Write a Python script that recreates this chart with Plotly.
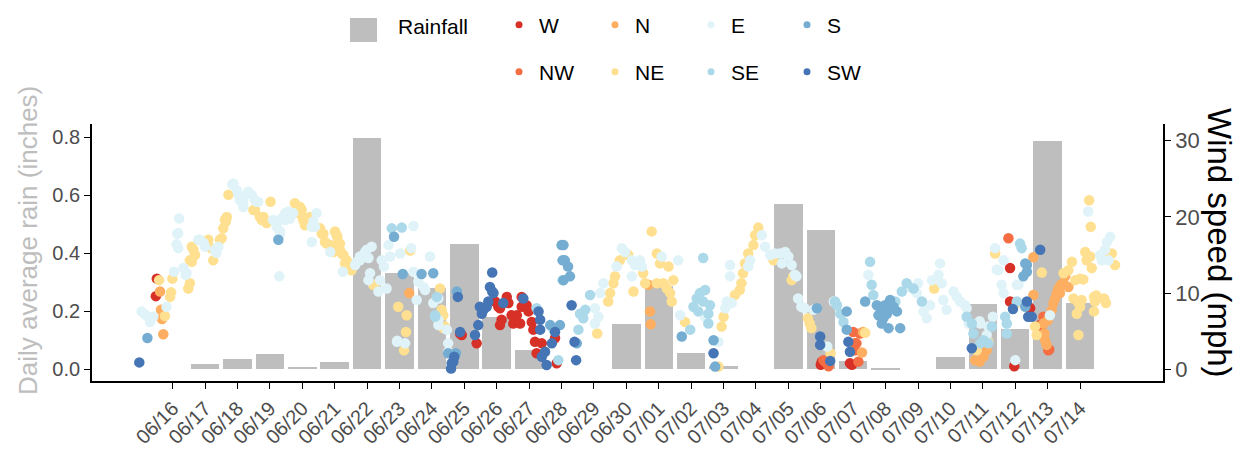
import plotly.graph_objects as go

# x is measured in days from 06/16 00:00 (tick positions), y2 in mph
dates = ['06/16', '06/17', '06/18', '06/19', '06/20', '06/21', '06/22', '06/23', '06/24', '06/25',
         '06/26', '06/27', '06/28', '06/29', '06/30', '07/01', '07/02', '07/03', '07/04', '07/05',
         '07/06', '07/07', '07/08', '07/09', '07/10', '07/11', '07/12', '07/13', '07/14']
rain = [0.0, 0.017, 0.035, 0.052, 0.009, 0.026, 0.799, 0.331, 0.279, 0.432,
        0.181, 0.067, 0.0, 0.0, 0.156, 0.288, 0.055, 0.012, 0.0, 0.569,
        0.481, 0.030, 0.002, 0.0, 0.044, 0.224, 0.141, 0.788, 0.229]

W_day = [-0.52, -0.49, 8.87, 8.92, 9.38, 9.95, 10.05, 10.1, 10.31, 10.36, 10.15, 10.1, 10.46, 10.51,
         10.62, 10.77, 10.77, 10.92, 10.98, 10.72, 11.08, 11.13, 11.18, 11.23, 11.39, 11.8, 11.85,
         20.0, 20.03, 20.96, 20.9, 25.84, 25.84, 25.97, 26.41, 26.46, 26.77, 26.82]
W_mph = [9.6, 11.9, 4.7, 4.5, 3.4, 8.9, 8.2, 8.0, 9.5, 8.7, 6.5, 5.8, 7.1, 6.0,
         7.1, 9.5, 8.2, 8.4, 7.6, 6.0, 6.2, 5.2, 3.6, 2.1, 3.4, 4.1, 0.8,
         0.6, 1.0, 0.6, 0.8, 13.3, 8.9, 0.4, 8.2, 8.0, 5.8, 5.8]

NW_day = [20.08, 20.24, 20.15, 21.0, 21.06, 21.1, 21.06, 21.16, 21.21, 25.79, 26.77, 26.87, 27.02, 27.05]
NW_mph = [1.2, 0.4, 0.9, 4.9, 3.4, 3.4, 2.5, 1.0, 4.7, 17.2, 5.7, 6.9, 2.5, 2.6]

N_day = [-0.29, -0.36, -0.39, -0.33, 7.3, 14.68, 14.73, 14.75, 21.3, 21.27, 24.76, 24.9, 25.02, 25.12,
         26.56, 26.56, 26.87, 26.9, 26.92, 26.97, 27.0, 27.13, 27.18, 27.23, 27.28, 27.33, 27.38,
         27.41, 27.49, 27.54, 27.64]
N_mph = [4.6, 7.8, 10.2, 6.6, 10.0, 11.1, 7.6, 5.9, 4.9, 2.2, 1.2, 1.0, 1.65, 2.5,
         14.7, 9.75, 6.0, 4.7, 3.8, 3.2, 6.4, 7.8, 8.7, 9.3, 10.0, 10.6, 10.0,
         11.1, 11.3, 12.2, 10.8]

NE_day = [-0.42, -0.24, -0.05, -0.08, -0.01, 0.48, 0.53, 0.59, 0.64, 0.69, 0.53, 0.59, 1.1, 1.18,
          1.25, 1.51, 1.56, 1.61, 1.64, 1.67, 1.72, 1.46, 2.49, 2.54, 2.69, 2.75, 2.8, 2.9, 3.02,
          3.77, 3.83, 3.88, 3.93, 3.98, 4.03, 4.03, 4.08, 4.19, 4.24, 4.55, 4.6, 4.65, 4.7, 4.75,
          4.86, 4.91, 4.96, 5.01, 5.06, 5.08, 5.11, 5.16, 5.16, 5.22, 5.27, 5.32, 5.37, 5.42, 5.47,
          5.52, 6.19, 6.24, 6.96, 7.22, 7.2, 7.14, 7.33, 8.25, 8.3, 8.35, 8.35, 8.4,
          13.1, 13.44, 13.5, 13.6, 13.65, 13.8, 14.06, 14.22, 14.52, 14.58, 14.78, 14.94, 15.04,
          14.94, 15.14, 15.25, 15.35, 15.4, 15.45, 15.3, 15.81, 16.84, 17.0, 16.94, 17.35, 17.5,
          17.55, 17.6, 17.66, 17.76, 17.92, 17.97, 18.07, 18.54, 19.1, 19.15, 19.6, 19.66, 19.71,
          20.3, 21.37, 23.5, 24.81, 25.17, 25.38, 26.82, 26.05, 26.61, 26.66, 27.49, 27.64, 27.75,
          27.85, 28.0, 28.1, 27.8, 27.95, 28.05, 27.9, 28.0, 27.95, 28.16, 28.31, 28.36, 28.2,
          28.28, 28.33, 28.43, 28.5, 28.46, 28.43, 28.74, 28.8, 28.83, 28.98, 29.08]
NE_mph = [11.7, 7.0, 10.1, 9.5, 11.9, 10.6, 11.3, 14.1, 15.7, 15.0, 14.3, 16.1, 17.0, 15.9,
          14.3, 17.2, 18.5, 19.6, 19.4, 20.0, 22.9, 17.0, 20.9, 20.9, 20.0, 19.6, 20.0, 19.2, 22.0,
          21.8, 20.9, 20.5, 21.3, 20.9, 20.0, 19.6, 18.9, 19.6, 20.0, 18.5, 17.8, 17.8, 16.7, 16.5,
          16.3, 15.9, 15.4, 18.1, 17.6, 17.4, 16.7, 16.5, 15.7, 15.2, 15.0, 13.9, 14.3, 13.3, 13.7,
          13.0, 11.1, 11.1, 8.2, 7.1, 4.9, 2.5, 15.6, 10.6, 7.8, 7.1, 5.4, 5.6,
          4.7, 8.9, 10.0, 11.3, 12.2, 14.3, 15.0, 10.2, 12.6, 11.3, 18.1, 15.2, 13.9,
          11.3, 11.3, 10.6, 10.0, 8.9, 11.7, 13.5, 6.2, 0.35, 6.9, 5.6, 9.75, 10.4,
          11.3, 12.6, 13.9, 15.2, 16.3, 17.6, 18.6, 14.3, 11.7, 12.2, 6.7, 6.0, 5.4,
          2.1, 4.8, 10.6, 2.5, 3.6, 15.2, 12.7, 8.7, 5.6, 4.5, 12.6, 13.0, 14.1,
          11.7, 11.9, 11.8, 9.3, 8.7, 9.1, 7.3, 8.2, 4.5, 15.4, 14.8, 13.3, 14.3,
          22.2, 18.7, 9.5, 9.7, 8.9, 7.6, 9.3, 8.7, 15.2, 15.2, 13.7]

E_day = [-0.96, -0.75, -0.6, -0.7, -0.85, -0.19, 0.04, 0.17, 0.12, 0.17, 0.2, 0.14, 0.33, 0.4,
         0.43, 0.79, 0.84, 1.0, 0.95, 1.3, 1.41, 1.35, 1.84, 1.87, 1.98, 2.03, 2.08, 2.18, 2.18,
         2.33, 2.33, 2.44, 2.54, 2.59, 2.64, 3.1, 3.21, 3.21, 3.31, 3.31, 3.36, 3.47, 3.47, 3.57,
         3.57, 3.62, 3.72, 3.29, 4.29, 4.29, 4.34, 4.39, 4.44, 4.86, 5.25, 5.63, 5.68, 5.78,
         5.78, 5.88, 5.94, 5.99, 6.04, 6.14, 6.04, 6.09, 6.35, 6.4, 6.45, 6.52, 6.6, 6.66, 6.71,
         7.02, 7.43, 7.36, 7.43, 7.58, 7.74, 7.53, 7.94, 7.79, 8.2, 8.04, 8.2, 8.2, 8.46, 8.5,
         8.5, 6.93, 7.17, 6.92, 13.03, 13.14, 13.03, 13.29, 13.19, 13.7, 13.86, 13.96, 14.17,
         14.27, 14.42, 14.48, 14.17, 15.09, 15.6, 15.66, 16.43, 16.84, 17.2, 17.1, 17.05, 17.25,
         17.2, 17.82, 17.76, 18.18, 18.28, 18.44, 18.59, 18.75, 18.9, 19.0, 18.8, 19.1, 19.2,
         19.25, 19.3, 19.4, 19.5, 19.77, 20.2, 20.4, 21.47, 22.76, 23.0, 22.96, 23.17, 23.27,
         23.37, 23.43, 23.63, 23.68, 23.73, 23.78, 23.88, 24.1, 24.2, 24.3, 24.45, 24.5, 25.12,
         24.9, 24.56, 24.92, 25.17, 25.31, 25.38, 25.64, 25.48, 25.43, 25.58, 25.64, 26.0, 26.1,
         26.05, 27.07, 28.25, 28.62, 28.77, 28.83, 28.93, 28.67, 28.88]
E_mph = [7.6, 6.9, 6.9, 6.2, 7.2, 8.2, 12.8, 15.9, 16.4, 17.9, 19.8, 17.8, 13.3, 12.4,
         12.6, 17.0, 17.0, 16.1, 16.6, 15.7, 16.1, 15.3, 24.3, 24.4, 23.5, 22.9, 22.2, 22.0, 21.3,
         23.1, 23.3, 22.9, 22.2, 22.0, 22.0, 19.6, 19.2, 18.7, 18.1, 17.8, 19.8, 20.5, 19.6, 20.7,
         20.5, 19.8, 20.5, 12.2, 16.7, 18.7, 19.4, 18.7, 20.5, 15.4, 12.8, 13.7, 14.1, 14.8,
         14.3, 15.0, 15.4, 15.7, 14.6, 16.1, 11.7, 12.6, 10.2, 11.7, 14.3, 13.5, 10.6, 16.3, 14.8,
         15.2, 18.8, 15.9, 12.8, 11.5, 10.8, 9.1, 14.8, 10.4, 9.3, 8.7, 6.5, 5.8, 5.2, 3.4,
         2.3, 3.75, 3.4, 3.6, 8.0, 6.9, 6.0, 11.3, 10.0, 13.5, 15.9, 15.4, 14.3,
         13.7, 14.3, 13.5, 12.2, 14.8, 14.3, 7.1, 6.9, 3.6, 13.7, 8.9, 8.0, 8.7,
         12.2, 14.3, 13.5, 17.6, 16.1, 15.0, 15.2, 15.2, 15.4, 14.8, 13.9, 13.7, 12.4,
         12.2, 9.3, 8.2, 8.0, 7.8, 3.0, 8.9, 12.4, 10.8, 11.3, 10.0, 7.6, 6.7,
         8.4, 11.7, 12.4, 13.9, 11.3, 9.1, 7.8, 10.2, 9.5, 8.9, 8.4, 8.0, 4.5,
         6.3, 6.0, 6.0, 5.6, 6.9, 15.9, 14.3, 13.0, 13.1, 11.1, 10.0, 1.2, 11.1,
         11.1, 7.1, 20.7, 15.0, 15.7, 16.7, 17.4, 14.3, 14.3]

SE_day = [6.76, 7.07, 8.1, 8.15, 8.1, 11.23, 11.75, 11.9, 12.03, 12.52, 12.88, 12.73, 12.57, 12.67,
          15.97, 16.07, 16.17, 16.27, 16.43, 16.37, 16.22, 16.53, 16.58, 16.37, 16.53, 20.44,
          20.5, 20.6, 20.7, 21.52, 21.57, 21.62, 22.3, 22.5, 22.65, 22.86, 23.12, 24.5, 24.66,
          24.71, 25.28, 25.02, 25.17, 24.92, 25.69, 25.74, 25.74, 26.05, 26.15, 26.2]
SE_mph = [18.5, 18.6, 7.1, 9.5, 6.9, 8.0, 5.2, 1.2, 11.7, 5.2, 9.75, 7.8, 7.3, 6.7,
          5.2, 8.2, 9.3, 10.0, 10.4, 8.9, 7.6, 7.3, 8.4, 14.6, 6.0, 8.9,
          8.4, 7.3, 6.2, 14.1, 11.1, 9.75, 8.9, 10.2, 11.3, 10.6, 8.9, 6.9, 6.0,
          4.7, 5.6, 3.8, 3.4, 3.4, 6.9, 6.0, 4.7, 8.9, 16.5, 15.9]

S_day = [-0.78, 3.26, 6.83, 7.1, 7.68, 8.04, 8.5, 8.74, 8.77, 11.65, 11.95, 12.0, 12.03, 12.06,
         12.1, 12.2, 12.26, 12.06, 12.47, 15.71, 16.69, 16.74, 19.88, 20.8, 20.8, 21.37, 21.73,
         21.84, 21.78, 21.93, 21.88, 22.09, 22.04, 22.14, 22.24, 22.45, 22.35, 21.98, 26.36,
         26.25, 26.31, 26.36, 26.31]
S_mph = [4.1, 17.0, 17.4, 12.5, 12.5, 12.6, 2.1, 2.1, 10.2, 5.8, 5.8, 16.3, 14.3, 16.3,
         14.3, 13.5, 12.2, 11.7, 3.4, 4.3, 3.8, 0.35, 8.0, 7.6, 5.2, 8.9, 8.4,
         8.0, 7.1, 6.7, 6.0, 5.4, 7.3, 9.1, 8.2, 5.4, 7.6, 8.4, 13.7,
         12.2, 13.9, 12.8, 8.2]

SW_day = [-1.03, 8.61, 8.66, 8.59, 8.69, 8.8, 8.87, 9.86, 9.79, 9.86, 9.9, 9.48, 9.59, 9.69, 9.54,
          9.74, 9.43, 9.33, 10.2, 10.82, 11.29, 11.34, 11.34, 11.39, 11.54, 11.7, 11.49, 11.8,
          12.31, 12.45, 12.4, 16.69, 19.98, 19.98, 20.29, 20.85, 20.9, 24.66, 25.93, 26.4, 26.36,
          26.77, 26.51]
SW_mph = [0.9, 0.8, 1.0, 0.1, 1.65, 9.5, 4.9, 12.7, 10.8, 10.2, 10.0, 8.2, 7.8, 8.2, 7.3,
          8.9, 5.8, 4.5, 8.7, 9.3, 7.6, 6.5, 5.2, 1.65, 0.56, 3.4, 2.3, 4.9,
          8.4, 1.2, 3.6, 2.1, 4.3, 3.2, 1.1, 3.6, 2.3, 2.75, 7.9, 6.9, 8.9,
          15.7, 6.9]

wind = [('W', W_day, W_mph, '#d73027'), ('NW', NW_day, NW_mph, '#f46d43'),
        ('N', N_day, N_mph, '#fdae61'), ('NE', NE_day, NE_mph, '#fee090'),
        ('E', E_day, E_mph, '#e0f3f8'), ('SE', SE_day, SE_mph, '#abd9e9'),
        ('S', S_day, S_mph, '#74add1'), ('SW', SW_day, SW_mph, '#4575b4')]
row1 = ['W', 'N', 'E', 'S']

FONT = 'Liberation Sans, Arial'
tick_font = dict(family=FONT, size=20, color='#4d4d4d')

# page body has an 8px margin, so the figure is 8px smaller than the window
W, H = 1239, 445
L, R, T, B = 84, 84, 116, 72
pw, ph = W - L - R, H - T - B


def px(x):
    return (x - L) / pw


def py(y):
    return (H - B - y) / ph


fig = go.Figure()
fig.add_trace(go.Bar(x=list(range(len(dates))), y=rain, width=0.88, marker_color='#bebebe',
                     marker_line_width=0, showlegend=False, name='Rainfall'))

for name, xs, ys, col in wind:
    fig.add_trace(go.Scatter(x=xs, y=ys, yaxis='y2', mode='markers', name=name, showlegend=False,
                             marker=dict(size=10.5, color=col, line_width=0)))
# legend-only entries with small dots
for name, xs, ys, col in wind:
    fig.add_trace(go.Scatter(x=[None], y=[None], yaxis='y2', mode='markers', name=name,
                             legend='legend2' if name in row1 else 'legend3',
                             marker=dict(size=7, color=col)))

leg = dict(orientation='h', xref='container', yref='container', xanchor='left', yanchor='middle',
           font=dict(family=FONT, size=21, color='black'),
           entrywidth=51, entrywidthmode='pixels', bgcolor='rgba(0,0,0,0)', traceorder='normal')

axis_common = dict(ticks='outside', ticklen=6, tickwidth=1.3, tickcolor='black', showline=True,
                   linecolor='black', linewidth=1.8, showgrid=False, zeroline=False)

fig.update_layout(
    width=W, height=H,
    margin=dict(l=L, r=R, t=T, b=B, autoexpand=False),
    paper_bgcolor='white', plot_bgcolor='white',
    bargap=0,
    xaxis=dict(axis_common, range=[-2.49, 30.56], tickvals=list(range(len(dates))), ticktext=dates,
               tickangle=-45, tickfont=tick_font),
    yaxis=dict(axis_common, range=[-0.040, 0.846], tickvals=[0, 0.2, 0.4, 0.6, 0.8],
               ticktext=['0.0', '0.2', '0.4', '0.6', '0.8'], tickfont=tick_font),
    yaxis2=dict(axis_common, range=[-1.54, 32.2], overlaying='y', side='right',
                tickvals=[0, 10, 20, 30], tickfont=dict(tick_font, size=22)),
    legend2=dict(leg, x=491 / W, y=1 - 17 / H),
    legend3=dict(leg, x=491 / W, y=1 - 64 / H),
    showlegend=True,
    shapes=[dict(type='rect', xref='paper', yref='paper',
                 x0=px(342), x1=px(369), y0=py(34), y1=py(10),
                 fillcolor='#bebebe', line_width=0)],
    annotations=[
        dict(text='Rainfall', xref='paper', yref='paper', x=px(388), y=py(18),
             xanchor='left', yanchor='middle', showarrow=False,
             font=dict(family=FONT, size=21, color='black')),
        dict(text='Daily average rain (inches)', xref='paper', yref='paper',
             x=px(20), y=py(233), textangle=-90, showarrow=False,
             xanchor='center', yanchor='middle',
             font=dict(family=FONT, size=26, color='#bebebe')),
        dict(text='Wind speed (mph)', xref='paper', yref='paper',
             x=px(1212), y=py(235), textangle=90, showarrow=False,
             xanchor='center', yanchor='middle',
             font=dict(family=FONT, size=33, color='black')),
    ],
)

fig.write_html('out.html')
